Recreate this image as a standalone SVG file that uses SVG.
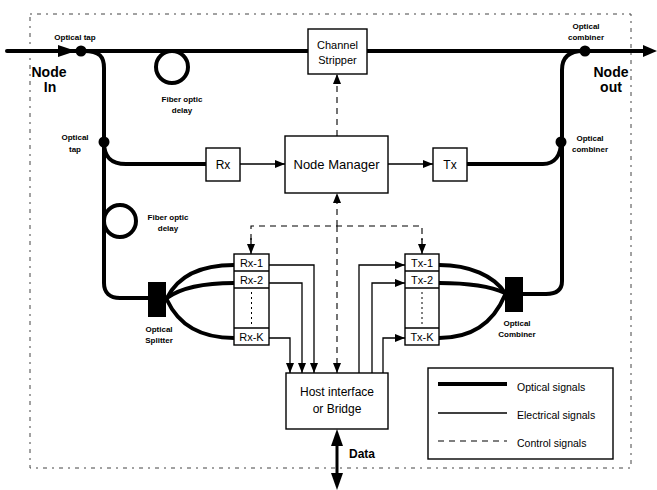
<svg xmlns="http://www.w3.org/2000/svg" width="657" height="490" viewBox="0 0 657 490">
<defs>
<style>
.opt{fill:none;stroke:#000;stroke-width:4;stroke-linecap:round}
.ele{fill:none;stroke:#000;stroke-width:1.3}
.ctl{fill:none;stroke:#000;stroke-width:1.1;stroke-dasharray:6 5}
.box{fill:#fff;stroke:#000;stroke-width:1.4}
.lbl{font-family:"Liberation Sans",Arial,sans-serif;font-size:8px;font-weight:bold;fill:#000;text-anchor:middle}
.txt{font-family:"Liberation Sans",Arial,sans-serif;font-size:12px;fill:#000;text-anchor:middle}
.sm{font-size:11px}
.nm{font-size:13px}
.big{font-family:"Liberation Sans",Arial,sans-serif;font-size:14px;font-weight:bold;fill:#000;text-anchor:middle}
.dat{font-family:"Liberation Sans",Arial,sans-serif;font-size:12px;font-weight:bold;fill:#000}
.leg{font-family:"Liberation Sans",Arial,sans-serif;font-size:10.5px;fill:#000}
.dot{fill:#000}
</style>
<marker id="ah" viewBox="0 0 10 8" refX="10" refY="4" markerWidth="10" markerHeight="8" markerUnits="userSpaceOnUse" orient="auto">
<path d="M0,0 L10,4 L0,8 Z" fill="#000"/>
</marker>
</defs>
<rect x="30" y="14" width="601" height="454" fill="none" stroke="#444" stroke-width="1" stroke-dasharray="2 5 4 5"/>
<g id="connectors">
<line class="opt" x1="7" y1="51" x2="645" y2="51"/>
<path d="M58,45 L76,51 L58,57 Z" fill="#000"/>
<path d="M643,45 L657,51 L643,57 Z" fill="#000"/>
<path class="opt" d="M84,51 C100,51 104,57 104,68 L104,283 C104,293 110,298 120,298 L148,298"/>
<path class="opt" d="M104,142 C104,156 110,164 126,164 L206,164"/>
<circle cx="172" cy="67" r="16" class="opt"/>
<circle cx="120" cy="221" r="16" class="opt"/>
<path class="opt" d="M467,164 L543,164 C555,164 561,155 561,142"/>
<path class="opt" d="M583,51 C568,51 562,58 562,70 L562,281 C562,290 556,294 546,294 L523,294"/>
<path class="opt" d="M167,298 C178,276 200,265 234,265"/>
<path class="opt" d="M167,298 C182,287 205,283 234,283"/>
<path class="opt" d="M167,300 C180,328 205,338 234,338"/>
<path class="opt" d="M505,293 C494,276 470,265 439,265"/>
<path class="opt" d="M505,293 C490,286 468,283 439,283"/>
<path class="opt" d="M505,295 C492,326 468,338 439,338"/>
<line class="ele" x1="240" y1="164" x2="285" y2="164" marker-end="url(#ah)"/>
<line class="ele" x1="388" y1="164" x2="433" y2="164" marker-end="url(#ah)"/>
<line class="ctl" x1="337" y1="136" x2="337" y2="74" marker-end="url(#ah)"/>
<line class="ctl" x1="337" y1="226" x2="337" y2="193" marker-end="url(#ah)"/>
<line class="ctl" x1="337" y1="226" x2="337" y2="373" marker-end="url(#ah)"/>
<path class="ctl" d="M251,240 L251,226 L422,226 L422,240"/>
<line class="ele" x1="251" y1="238" x2="251" y2="254" marker-end="url(#ah)"/>
<line class="ele" x1="422" y1="238" x2="422" y2="254" marker-end="url(#ah)"/>
<path class="ele" d="M269,265 L314,265 L314,373" marker-end="url(#ah)"/>
<path class="ele" d="M269,283 L302,283 L302,373" marker-end="url(#ah)"/>
<path class="ele" d="M269,338 L290,338 L290,373" marker-end="url(#ah)"/>
<path class="ele" d="M359,373 L359,265 L405,265" marker-end="url(#ah)"/>
<path class="ele" d="M372,373 L372,283 L405,283" marker-end="url(#ah)"/>
<path class="ele" d="M383,373 L383,338 L405,338" marker-end="url(#ah)"/>
<line x1="337" y1="440" x2="337" y2="478" stroke="#000" stroke-width="3"/>
<path d="M337,429 L343,446 L331,446 Z" fill="#000"/>
<path d="M337,490 L343,473 L331,473 Z" fill="#000"/>
</g>
<g id="tap1"><circle class="dot" cx="81" cy="51" r="5.5"/><text class="lbl" x="75" y="40">Optical tap</text></g>
<g id="tap2"><circle class="dot" cx="104" cy="142" r="5.5"/><text class="lbl" x="75" y="140">Optical</text><text class="lbl" x="75" y="152">tap</text></g>
<g id="comb1"><circle class="dot" cx="585" cy="51" r="5.5"/><text class="lbl" x="586" y="29">Optical</text><text class="lbl" x="586" y="40">combiner</text></g>
<g id="comb2"><circle class="dot" cx="561" cy="142" r="5.5"/><text class="lbl" x="590" y="141">Optical</text><text class="lbl" x="590" y="152">combiner</text></g>
<g id="nodein"><text class="big" x="49" y="77">Node</text><text class="big" x="50" y="92">In</text></g>
<g id="nodeout"><text class="big" x="611" y="77">Node</text><text class="big" x="611" y="92">out</text></g>
<g id="delay1"><text class="lbl" x="182" y="102">Fiber optic</text><text class="lbl" x="182" y="113">delay</text></g>
<g id="delay2"><text class="lbl" x="168" y="220">Fiber optic</text><text class="lbl" x="168" y="231">delay</text></g>
<g id="stripper"><rect class="box" x="308" y="29" width="59" height="45"/><text class="txt sm" x="337.5" y="49">Channel</text><text class="txt sm" x="337.5" y="64">Stripper</text></g>
<g id="rx"><rect class="box" x="206" y="148" width="34" height="33"/><text class="txt" x="223" y="169">Rx</text></g>
<g id="tx"><rect class="box" x="433" y="148" width="34" height="33"/><text class="txt" x="450" y="169">Tx</text></g>
<g id="manager"><rect class="box" x="285" y="136" width="103" height="57"/><text class="txt nm" x="336.5" y="169">Node Manager</text></g>
<g id="rxstack">
<rect class="box" x="234" y="254" width="35" height="91"/>
<line class="ele" x1="234" y1="271" x2="269" y2="271"/><line class="ele" x1="234" y1="288" x2="269" y2="288"/><line class="ele" x1="234" y1="328" x2="269" y2="328"/>
<line x1="251.5" y1="292" x2="251.5" y2="324" stroke="#000" stroke-width="1" stroke-dasharray="2 3"/>
<text class="txt sm" x="251.5" y="267">Rx-1</text><text class="txt sm" x="251.5" y="284">Rx-2</text><text class="txt sm" x="251.5" y="341">Rx-K</text>
</g>
<g id="txstack">
<rect class="box" x="405" y="254" width="34" height="91"/>
<line class="ele" x1="405" y1="271" x2="439" y2="271"/><line class="ele" x1="405" y1="288" x2="439" y2="288"/><line class="ele" x1="405" y1="328" x2="439" y2="328"/>
<line x1="422" y1="292" x2="422" y2="324" stroke="#000" stroke-width="1" stroke-dasharray="2 3"/>
<text class="txt sm" x="422" y="267">Tx-1</text><text class="txt sm" x="422" y="284">Tx-2</text><text class="txt sm" x="422" y="341">Tx-K</text>
</g>
<g id="splitter"><rect x="148" y="282" width="18" height="35" fill="#000"/><text class="lbl" x="159" y="332">Optical</text><text class="lbl" x="159" y="343">Splitter</text></g>
<g id="combiner"><rect x="505" y="277" width="18" height="35" fill="#000"/><text class="lbl" x="517" y="326">Optical</text><text class="lbl" x="517" y="337">Combiner</text></g>
<g id="host"><rect class="box" x="286" y="373" width="102" height="56"/><text class="txt" x="337" y="396">Host interface</text><text class="txt" x="337" y="413">or Bridge</text></g>
<g id="data"><text class="dat" x="349" y="458">Data</text></g>
<g id="legend">
<rect class="box" x="428" y="368" width="185" height="91"/>
<line x1="438" y1="384" x2="507" y2="384" stroke="#000" stroke-width="4"/>
<line class="ele" x1="438" y1="413" x2="507" y2="413"/>
<line class="ctl" x1="438" y1="441" x2="507" y2="441"/>
<text class="leg" x="517" y="391">Optical signals</text>
<text class="leg" x="517" y="419">Electrical signals</text>
<text class="leg" x="517" y="447">Control signals</text>
</g>
</svg>
